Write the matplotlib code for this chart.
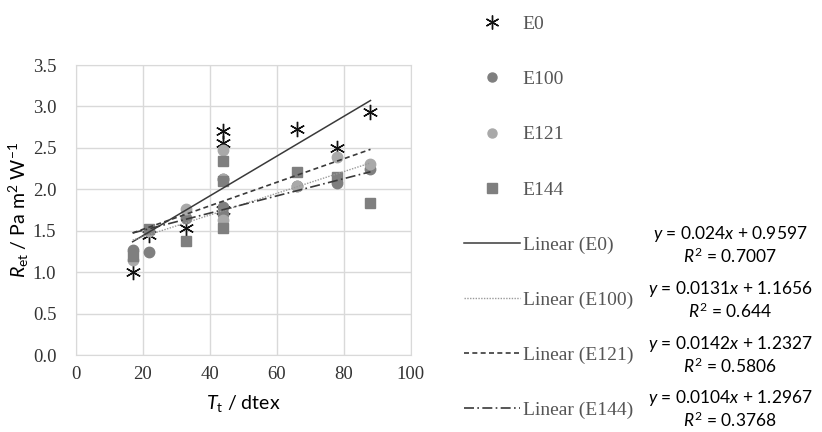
import numpy as np
import matplotlib
matplotlib.use("Agg")
import matplotlib.pyplot as plt
from matplotlib.lines import Line2D

plt.rcParams['mathtext.fontset'] = 'custom'
plt.rcParams['mathtext.rm'] = 'Lato'
plt.rcParams['mathtext.it'] = 'Lato:italic'

# linear density (dtex) of each sample, shared by all series
tt = [17, 22, 33, 44, 44, 44, 66, 78, 88]

# Ret values
e0 = [1.00, 1.45, 1.53, 2.70, 2.56, 1.75, 2.73, 2.50, 2.93]
e100 = [1.27, 1.24, 1.65, 2.13, 1.79, 1.70, 2.04, 2.08, 2.24]
e121 = [1.15, 1.50, 1.76, 2.48, 1.63, 2.12, 2.04, 2.39, 2.31]
e144 = [1.20, 1.52, 1.38, 2.34, 2.10, 1.53, 2.21, 2.15, 1.84]

# Excel trend line equations shown on the right
names = ['E0', 'E100', 'E121', 'E144']
slopes = [0.024, 0.0131, 0.0142, 0.0104]
intercepts = [0.9597, 1.1656, 1.2327, 1.2967]
r2_text = ['0.7007', '0.644', '0.5806', '0.3768']
slope_text = ['0.024', '0.0131', '0.0142', '0.0104']
icpt_text = ['0.9597', '1.1656', '1.2327', '1.2967']

fig = plt.figure(figsize=(8.22, 4.32), dpi=100)
ax = fig.add_axes([0.0921, 0.178, 0.4075, 0.6715])

ax.plot(tt, e0, ls='none', marker=(6, 2, 0), ms=11, mew=1.0, color='#111111')
ax.plot(tt, e100, ls='none', marker='o', ms=7.5, color='#7f7f7f')
ax.plot(tt, e121, ls='none', marker='o', ms=7.5, color='#a9a9a9')
ax.plot(tt, e144, ls='none', marker='s', ms=7, color='#7f7f7f')

line_styles = [dict(ls='-', color='#3a3a3a', lw=1.1),
               dict(ls=(0, (1, 1)), color='#9a9a9a', lw=1.0),
               dict(ls=(0, (3, 2)), color='#3a3a3a', lw=1.2),
               dict(ls=(0, (6, 2, 1, 2)), color='#3a3a3a', lw=1.2)]
xfit = np.array([min(tt), max(tt)])
for m, b, st in zip(slopes, intercepts, line_styles):
    ax.plot(xfit, m * xfit + b, **st)

ax.set_xlim(0, 100)
ax.set_ylim(0, 3.5)
ax.set_xticks(np.arange(0, 101, 20))
ax.set_yticks(np.arange(0, 3.51, 0.5))
ax.set_yticklabels([f'{v:.1f}' for v in np.arange(0, 3.51, 0.5)])
ax.grid(True, color='#d9d9d9', lw=1)
ax.set_axisbelow(True)
for s in ax.spines.values():
    s.set_color('#d9d9d9')
ax.tick_params(length=0, labelsize=13.5, labelcolor='#333333')
ax.tick_params(axis='y', pad=14)
ax.tick_params(axis='x', pad=8)
for lab in ax.get_xticklabels() + ax.get_yticklabels():
    lab.set_fontfamily('Liberation Serif')

ax.set_xlabel(r'$T_\mathrm{t}$ / dtex', fontsize=14, family='Lato', labelpad=7)
ax.set_ylabel(r'$R_\mathrm{et}$ / Pa m$^2$ W$^{-1}$', fontsize=14, family='Lato', labelpad=1)

handles = [
    Line2D([], [], ls='none', marker=(6, 2, 0), ms=10, mew=1.0, color='#111111'),
    Line2D([], [], ls='none', marker='o', ms=6.5, color='#7f7f7f'),
    Line2D([], [], ls='none', marker='o', ms=6.5, color='#a9a9a9'),
    Line2D([], [], ls='none', marker='s', ms=6.5, color='#7f7f7f'),
]
labels = list(names)
for n, st in zip(names, line_styles):
    handles.append(Line2D([], [], **st))
    labels.append(f'Linear ({n})')

leg = fig.legend(handles, labels, loc='upper left', bbox_to_anchor=(446 / 822, 1 + 2 / 432),
                 frameon=False, prop={'family': 'Liberation Serif', 'size': 14},
                 labelspacing=1.93, handlelength=2.9, handletextpad=0.15,
                 labelcolor='#555555')

eq_y = [234, 289, 344, 398]
for i, y in enumerate(eq_y):
    fig.text(730 / 822, 1 - y / 432,
             f'$y$ = {slope_text[i]}$x$ + {icpt_text[i]}',
             ha='center', va='center', fontsize=12.5, family='Lato')
    fig.text(730 / 822, 1 - (y + 22) / 432,
             f'$R^2$ = {r2_text[i]}',
             ha='center', va='center', fontsize=12.5, family='Lato')

fig.savefig('out.png', dpi=100)
